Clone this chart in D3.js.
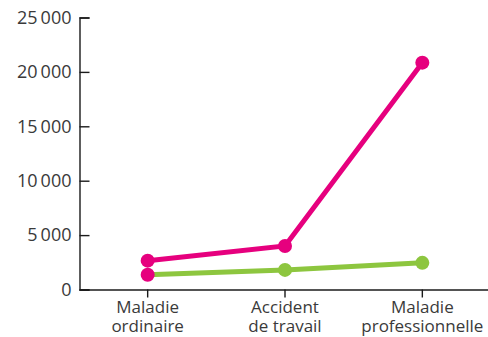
<!DOCTYPE html>
<html>
<head>
<meta charset="utf-8">
<script src="https://cdn.jsdelivr.net/npm/d3@7"></script>
<style>
  body { margin: 0; background: #fff; }
  text { font-family: "Open Sans", "Noto Sans", sans-serif; fill: #3a3a3a; }
</style>
</head>
<body>
<div id="chart"></div>
<script>
        const categories = [["Maladie", "ordinaire"], ["Accident", "de travail"], ["Maladie", "professionnelle"]];
        const pinkValues = [2650, 4000, 20850];
        const greenValues = [1350, 1800, 2450];
        const yTicks = [0, 5000, 10000, 15000, 20000, 25000];

        const width = 488;
        const height = 337;

        const svg = d3.select("#chart").append("svg")
            .attr("width", width)
            .attr("height", height);

        const x = d3.scaleBand()
            .domain(categories.map((c, i) => i))
            .range([79, 491]);

        const y = d3.scaleLinear()
            .domain([0, 25000])
            .range([289.5, 17.5]);

        const fmt = v => d3.format(",")(v).replace(",", "\u2009");

        // y axis
        const yAxis = svg.append("g")
            .attr("transform", "translate(79.5,0)")
            .call(d3.axisLeft(y).tickValues(yTicks).tickSize(-10).tickPadding(8).tickFormat(fmt));
        yAxis.select(".domain").attr("stroke", "#1a1a1a").attr("stroke-width", 1.4);
        yAxis.selectAll(".tick line").attr("stroke", "#1a1a1a").attr("stroke-width", 1.4);
        yAxis.selectAll(".tick text").attr("font-size", 18).attr("fill", "#3a3a3a")
            .style("font-family", "'Open Sans', sans-serif");

        // x axis
        const xAxis = svg.append("g")
            .attr("transform", "translate(0,289.5)")
            .call(d3.axisBottom(x).tickSize(8).tickSizeOuter(0).tickFormat(""));
        xAxis.select(".domain").attr("stroke", "#1a1a1a").attr("stroke-width", 1.4);
        xAxis.selectAll(".tick line").attr("stroke", "#1a1a1a").attr("stroke-width", 1.4);

        categories.forEach((lines, i) => {
            lines.forEach((l, j) => {
                svg.append("text")
                    .attr("x", x(i) + x.bandwidth() / 2)
                    .attr("y", 313 + j * 19)
                    .attr("text-anchor", "middle")
                    .attr("font-size", 17)
                    .text(l);
            });
        });

        const cx = i => x(i) + x.bandwidth() / 2;
        const line = d3.line().x((d, i) => cx(i)).y(d => y(d));

        const pink = "#e6007e";
        const green = "#8dc63f";

        svg.append("path").datum(greenValues)
            .attr("d", line).attr("fill", "none")
            .attr("stroke", green).attr("stroke-width", 5);
        svg.append("path").datum(pinkValues)
            .attr("d", line).attr("fill", "none")
            .attr("stroke", pink).attr("stroke-width", 5);

        // first green marker is drawn in magenta in the original
        svg.selectAll(".gdot").data(greenValues).enter().append("circle")
            .attr("cx", (d, i) => cx(i)).attr("cy", d => y(d)).attr("r", 7)
            .attr("fill", (d, i) => i === 0 ? pink : green);
        svg.selectAll(".pdot").data(pinkValues).enter().append("circle")
            .attr("cx", (d, i) => cx(i)).attr("cy", d => y(d)).attr("r", 7)
            .attr("fill", pink);
</script>
</body>
</html>
